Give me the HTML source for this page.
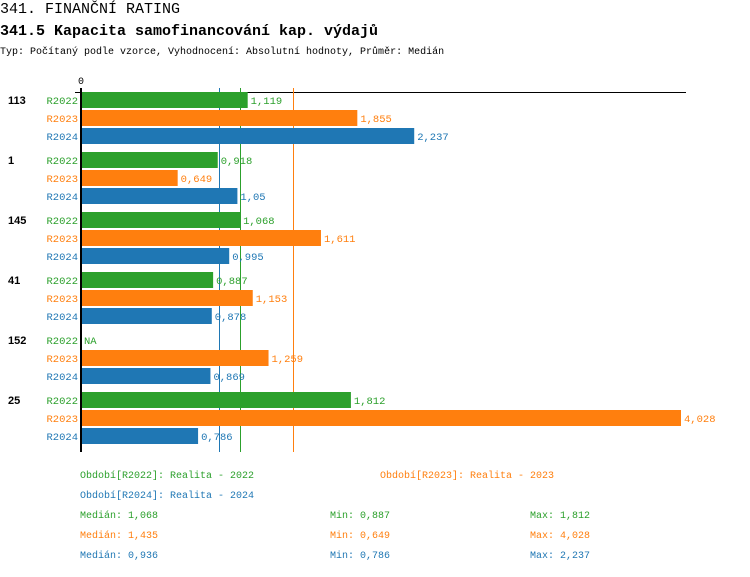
<!DOCTYPE html>
<html><head><meta charset="utf-8"><style>
body{margin:0;background:#fff;width:750px;height:572px;overflow:hidden}
svg text{font-family:"Liberation Mono",monospace}
</style></head><body>
<svg width="750" height="572" xmlns="http://www.w3.org/2000/svg">
<text x="0" y="13" font-size="15" fill="#000">341. FINANČNÍ RATING</text>
<text x="0" y="35" font-size="15" fill="#000" font-weight="bold">341.5 Kapacita samofinancování kap. výdajů</text>
<text x="0" y="54" font-size="10" fill="#000">Typ: Počítaný podle vzorce, Vyhodnocení: Absolutní hodnoty, Průměr: Medián</text>
<text x="78" y="84" font-size="10" fill="#000">0</text>
<line x1="75" y1="92.5" x2="686" y2="92.5" stroke="#000" stroke-width="1"/>
<line x1="219.5" y1="88" x2="219.5" y2="452" stroke="#1f77b4"/>
<line x1="240.5" y1="88" x2="240.5" y2="452" stroke="#2ca02c"/>
<line x1="293.5" y1="88" x2="293.5" y2="452" stroke="#ff7f0e"/>
<g id="bars" font-size="10.5"></g>
<line x1="81" y1="88" x2="81" y2="452" stroke="#000" stroke-width="2"/>
<g font-size="10">
<text x="80" y="478" fill="#2ca02c">Období[R2022]: Realita - 2022</text>
<text x="380" y="478" fill="#ff7f0e">Období[R2023]: Realita - 2023</text>
<text x="80" y="498" fill="#1f77b4">Období[R2024]: Realita - 2024</text>
<text x="80" y="518" fill="#2ca02c">Medián: 1,068</text>
<text x="330" y="518" fill="#2ca02c">Min: 0,887</text>
<text x="530" y="518" fill="#2ca02c">Max: 1,812</text>
<text x="80" y="538" fill="#ff7f0e">Medián: 1,435</text>
<text x="330" y="538" fill="#ff7f0e">Min: 0,649</text>
<text x="530" y="538" fill="#ff7f0e">Max: 4,028</text>
<text x="80" y="558" fill="#1f77b4">Medián: 0,936</text>
<text x="330" y="558" fill="#1f77b4">Min: 0,786</text>
<text x="530" y="558" fill="#1f77b4">Max: 2,237</text>
</g>
</svg>
<script>
var d=[["113",[1.119,1.855,2.237]],["1",[0.918,0.649,1.05]],["145",[1.068,1.611,0.995]],["41",[0.887,1.153,0.878]],["152",[null,1.259,0.869]],["25",[1.812,4.028,0.786]]];
var c=["#2ca02c","#ff7f0e","#1f77b4"],n=["R2022","R2023","R2024"],k=600/4.028,h="";
d.forEach(function(g,i){var y0=92+i*60;
h+='<text x="8" y="'+(y0+12)+'" font-size="11" font-weight="bold" fill="#000" style="font-family:\'Liberation Sans\',sans-serif">'+g[0]+'</text>';
g[1].forEach(function(v,j){var y=y0+j*18;
h+='<text x="78" y="'+(y+12)+'" text-anchor="end" fill="'+c[j]+'">'+n[j]+'</text>';
if(v==null){h+='<text x="84" y="'+(y+12)+'" fill="'+c[j]+'">NA</text>';return;}
var w=v*k;h+='<rect x="81" y="'+y+'" width="'+w+'" height="16" fill="'+c[j]+'"/>';
h+='<text x="'+(84+w)+'" y="'+(y+12)+'" fill="'+c[j]+'">'+String(v).replace(".",",")+'</text>';});});
document.getElementById("bars").innerHTML=h;
</script>
</body></html>
